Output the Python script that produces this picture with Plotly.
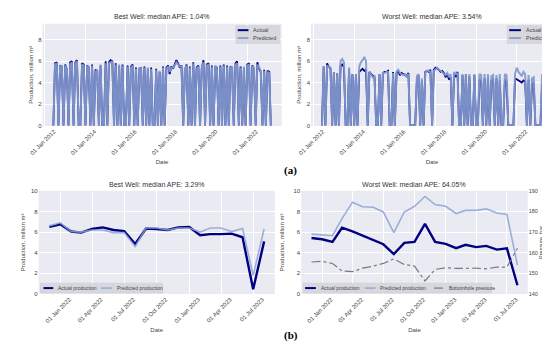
import pandas as pd
import plotly.graph_objects as go

W, H = 550, 344

# ---------------- data ----------------
long_start = "2012-06-01"

best_actual = [
    0, 5.8, 5.9, 0, 5.6, 5.5, 0,
    5.7, 5.2, 0, 5.9, 6.0, 0, 5.9, 6.1, 0, 0, 5.8, 5.7,
    0, 5.6, 5.4, 0, 5.7, 0, 5.2, 5.1, 0, 5.6, 0, 0,
    6.0, 0, 5.9, 6.1, 6.0, 0, 5.8, 0, 5.6, 0, 5.7, 0,
    0, 5.6, 0, 5.5, 5.7, 0, 5.4, 0, 5.3, 5.4, 0, 5.5,
    0, 5.3, 0, 5.4, 0, 0, 5.3, 0, 5.0, 0, 5.5, 0,
    5.4, 5.6, 4.8, 5.5, 5.3, 5.7, 6.1, 5.8, 5.4, 5.6, 0, 5.2,
    5.7, 0, 5.5, 0, 5.9, 0, 5.4, 5.6, 0, 5.3, 6.1, 0,
    5.7, 5.8, 0, 5.6, 0, 5.5, 5.4, 0, 5.6, 0, 5.7, 0,
    5.6, 0, 5.5, 5.4, 0, 5.8, 6.0, 0, 5.5, 0, 5.4, 0,
    5.7, 5.8, 0, 5.6, 5.3, 0, 5.9, 5.3, 5.0, 0, 5.2, 0,
    5.1, 5.0, 0,
]
best_pred = [
    0, 5.7, 5.8, 0, 5.5, 5.6, 0,
    5.6, 5.3, 0, 5.7, 5.9, 0, 5.8, 6.0, 0, 0, 5.7, 5.6,
    0, 5.5, 5.5, 0, 5.6, 0, 5.0, 5.2, 0, 5.7, 0, 0,
    5.8, 0, 5.8, 5.9, 6.0, 0, 5.7, 0, 5.7, 0, 5.6, 0,
    0, 5.5, 0, 5.4, 5.6, 0, 5.3, 0, 5.4, 5.3, 0, 5.4,
    0, 5.4, 0, 5.3, 0, 0, 5.2, 0, 5.1, 0, 5.4, 0,
    5.3, 5.5, 5.0, 5.4, 5.4, 5.6, 5.9, 5.7, 5.5, 5.5, 0, 5.3,
    5.6, 0, 5.4, 0, 5.8, 0, 5.3, 5.5, 0, 5.4, 5.9, 0,
    5.6, 5.7, 0, 5.5, 0, 5.6, 5.3, 0, 5.5, 0, 5.6, 0,
    5.5, 0, 5.4, 5.5, 0, 5.7, 5.8, 0, 5.4, 0, 5.5, 0,
    5.6, 5.7, 0, 5.5, 5.4, 0, 5.7, 5.4, 5.1, 0, 5.1, 0,
    5.0, 4.9, 0,
]

worst_actual = [
    0, 5.5, 0, 5.8, 5.5, 5.3, 0,
    5.0, 0, 4.9, 0, 5.6, 5.7, 5.4, 0, 0, 5.3, 0, 4.8,
    0, 4.8, 0, 5.0, 5.2, 5.3, 5.1, 5.2, 0, 5.0, 4.8, 4.6,
    4.5, 0, 0, 4.8, 0, 4.9, 5.0, 5.0, 5.1, 0, 0, 5.0,
    0, 4.9, 5.1, 4.7, 4.9, 4.8, 4.7, 4.6, 4.9, 0, 0, 0,
    0, 4.3, 4.7, 0, 4.2, 0, 5.0, 5.1, 5.0, 5.2, 0, 5.2,
    5.4, 5.3, 5.2, 5.0, 5.1, 4.9, 4.5, 4.8, 4.3, 4.5, 0, 4.8,
    4.6, 5.0, 0, 0, 4.7, 0, 4.8, 0, 4.6, 0, 0, 4.7,
    0, 0, 4.3, 4.1, 0, 4.4, 0, 4.5, 0, 4.2, 4.3, 0,
    4.4, 0, 4.2, 0, 0, 4.3, 4.1, 0, 0, 0, 0, 4.4,
    4.3, 4.2, 4.1, 4.0, 4.2, 4.1, 0, 4.3, 0, 3.8, 4.0, 0,
    0, 0, 0, 3.9,
]
worst_pred = [
    0, 5.5, 0, 5.6, 5.5, 5.4, 0,
    5.0, 0, 4.9, 0, 6.0, 6.2, 5.9, 0, 0, 5.4, 0, 4.8,
    0, 4.8, 0, 5.5, 5.9, 6.1, 6.4, 6.0, 0, 5.0, 4.7, 4.5,
    4.6, 0, 0, 4.8, 0, 4.9, 4.9, 5.0, 5.0, 0, 0, 4.9,
    0, 5.0, 5.2, 4.9, 4.8, 4.7, 4.8, 4.5, 4.8, 0, 0, 0,
    0, 4.6, 4.8, 0, 4.4, 0, 4.9, 5.1, 5.1, 5.0, 0, 5.1,
    5.3, 5.4, 5.2, 5.1, 5.0, 4.8, 4.7, 4.9, 4.5, 4.8, 0, 5.0,
    4.8, 4.9, 0, 0, 4.8, 0, 4.8, 0, 4.8, 0, 0, 4.8,
    0, 0, 4.8, 4.7, 0, 4.8, 0, 4.8, 0, 4.6, 4.7, 0,
    4.7, 0, 4.8, 0, 0, 4.8, 4.7, 0, 0, 0, 0, 4.8,
    5.4, 5.0, 4.8, 4.6, 5.0, 4.8, 0, 4.7, 0, 4.4, 4.5, 0,
    0, 0, 0, 4.8,
]

recent_start = "2021-12-01"
best_recent_actual = [6.5, 6.75, 6.05, 5.95, 6.3, 6.45, 6.2, 6.1, 4.85, 6.35, 6.3,
                      6.2, 6.45, 6.5, 5.7, 5.8, 5.8, 5.85, 5.5, 0.45, 5.1]
best_recent_pred = [6.6, 6.9, 6.05, 6.0, 6.2, 6.2, 5.95, 5.95, 4.6, 6.4, 6.4,
                    6.2, 6.4, 6.4, 6.0, 6.4, 6.4, 6.05, 6.35, 1.8, 6.3]
worst_recent_actual = [5.43, 5.3, 5.05, 6.42, 6.07, 5.65, 5.2, 4.82, 3.87, 4.95, 5.05,
                       6.8, 5.05, 4.86, 4.44, 4.76, 4.54, 4.66, 4.3, 4.42, 0.85]
worst_recent_pred = [5.8, 5.7, 5.65, 7.3, 8.9, 8.45, 8.4, 7.95, 5.95, 7.95, 8.5,
                     9.45, 8.67, 8.5, 7.8, 8.1, 8.1, 8.25, 7.85, 7.7, 2.8]
worst_recent_bhp = [155.5, 155.8, 154.8, 151.2, 150.8, 152.5, 153.5, 154.8, 157.0, 154.3, 153.5,
                    146.3, 151.9, 152.7, 152.4, 152.5, 152.5, 152.2, 153.0, 153.0, 162.2]

titles = ["Best Well: median APE: 1.04%", "Worst Well: median APE: 3.54%",
          "Best Well: median APE: 3.29%", "Worst Well: median APE: 64.05%"]

long_tickvals = ["2012-01-01", "2014-01-01", "2016-01-01", "2018-01-01", "2020-01-01", "2022-01-01"]
long_ticktext = ["01 Jan 2012", "01 Jan 2014", "01 Jan 2016", "01 Jan 2018", "01 Jan 2020", "01 Jan 2022"]
recent_tickvals = ["2022-01-01", "2022-04-01", "2022-07-01", "2022-10-01",
                   "2023-01-01", "2023-04-01", "2023-07-01"]
recent_ticktext = ["01 Jan 2022", "01 Apr 2022", "01 Jul 2022", "01 Oct 2022",
                   "01 Jan 2023", "01 Apr 2023", "01 Jul 2023"]
pressure_ticks = [140, 150, 160, 170, 180, 190]

# ---------------- helpers ----------------
def months(start, n):
    return pd.date_range(start, periods=n, freq="MS")

def padded(dates, frac=0.05):
    t0, t1 = dates[0], dates[-1]
    pad = (t1 - t0) * frac
    return [(t0 - pad).strftime("%Y-%m-%d %H:%M:%S"), (t1 + pad).strftime("%Y-%m-%d %H:%M:%S")]

def px(x):
    return x / W

def py(y):
    return 1 - y / H

best_dates = months(long_start, len(best_actual))
worst_dates = months(long_start, len(worst_actual))
recent_dates = months(recent_start, len(best_recent_actual))

NAVY = "#000080"
PRED_TOP = "rgba(130,154,206,0.93)"
PRED_BOT = "rgba(140,165,210,0.85)"
BHP = "#7a7a7a"
FONT = "Liberation Sans"
TXT = "#444444"

fig = go.Figure()

def add(x, y, color, width, xa, ya, dash="solid"):
    fig.add_trace(go.Scatter(x=x, y=y, mode="lines", line=dict(color=color, width=width, dash=dash),
                             xaxis=xa, yaxis=ya, showlegend=False, hoverinfo="skip"))

add(best_dates, best_actual, NAVY, 1.8, "x", "y")
add(best_dates, best_pred, PRED_TOP, 2, "x", "y")
add(worst_dates, worst_actual, NAVY, 1.8, "x2", "y2")
add(worst_dates, worst_pred, PRED_TOP, 2, "x2", "y2")
add(recent_dates, best_recent_actual, NAVY, 2.4, "x3", "y3")
add(recent_dates, best_recent_pred, PRED_BOT, 1.6, "x3", "y3")
add(recent_dates, worst_recent_actual, NAVY, 2.4, "x4", "y4")
add(recent_dates, worst_recent_pred, PRED_BOT, 1.6, "x4", "y4")
add(recent_dates, worst_recent_bhp, BHP, 1.2, "x4", "y5", dash="dashdot")

tickfont = dict(family=FONT, size=6, color=TXT)
titlefont = dict(family=FONT, size=6, color=TXT)

def xaxis(domain, rng, tv, tt, anchor):
    return dict(domain=domain, range=rng, tickvals=tv, ticktext=tt, tickangle=-45,
                tickfont=tickfont, showgrid=True, gridcolor="white", gridwidth=1,
                zeroline=False, showline=False, ticks="", anchor=anchor,
                ticklabelshift=9, title=dict(text="Date", font=titlefont, standoff=4))

def yaxis(domain, rng, tv, anchor, title="Production, million m³", standoff=4):
    return dict(domain=domain, range=rng, tickvals=tv, tickfont=tickfont, showgrid=True,
                gridcolor="white", gridwidth=1, zeroline=False, showline=False, ticks="",
                anchor=anchor, title=dict(text=title, font=titlefont, standoff=standoff))

top_y = [py(117), py(13)]
bot_y = [py(288), py(183)]
dom_tl = [px(22), px(267)]
dom_tr = [px(297), px(545)]
dom_bl = [px(18), px(260)]
dom_br = [px(287), px(519)]

fig.update_layout(
    width=W, height=H, margin=dict(l=0, r=0, t=0, b=0),
    paper_bgcolor="white", plot_bgcolor="#EAEAF2",
    font=dict(family=FONT, color=TXT),
    showlegend=False,
    xaxis=xaxis(dom_tl, padded(best_dates), long_tickvals, long_ticktext, "y"),
    xaxis2=xaxis(dom_tr, padded(worst_dates), long_tickvals, long_ticktext, "y2"),
    xaxis3=xaxis(dom_bl, padded(recent_dates), recent_tickvals, recent_ticktext, "y3"),
    xaxis4=xaxis(dom_br, padded(recent_dates), recent_tickvals, recent_ticktext, "y4"),
    yaxis=yaxis(top_y, [-0.05, 9.5], [0, 2, 4, 6, 8], "x"),
    yaxis2=yaxis(top_y, [-0.05, 9.5], [0, 2, 4, 6, 8], "x2"),
    yaxis3=yaxis(bot_y, [0, 10], [0, 2, 4, 6, 8, 10], "x3"),
    yaxis4=yaxis(bot_y, [0, 10], [0, 2, 4, 6, 8, 10], "x4", standoff=8),
    yaxis5=dict(domain=bot_y, range=[140, 190], tickvals=pressure_ticks,
                overlaying="y4", side="right", anchor="x4", showgrid=False, zeroline=False,
                tickfont=dict(family=FONT, size=5.5, color=TXT), ticks="", ticklen=0,
                showline=False,
                title=dict(text="Pressure, bar", font=dict(family=FONT, size=5.5, color=TXT),
                           standoff=1)),
)

annotations = []
# subplot titles
for dom, ytop, text in [(dom_tl, 6, titles[0]), (dom_tr, 6, titles[1]),
                        (dom_bl, 177, titles[2]), (dom_br, 177, titles[3])]:
    annotations.append(dict(x=(dom[0] + dom[1]) / 2, y=py(ytop), xref="paper", yref="paper",
                            text=text, showarrow=False, xanchor="center", yanchor="middle",
                            font=dict(family=FONT, size=7, color="#333333")))
# panel labels
for x, y, t in [(276, 162, "(a)"), (277, 330, "(b)")]:
    annotations.append(dict(x=px(x), y=py(y), xref="paper", yref="paper", text=f"<b>{t}</b>",
                            showarrow=False, xanchor="center", yanchor="middle",
                            font=dict(family="Liberation Serif", size=11, color="black")))

shapes = []

def legend(box, items, fsize):
    x0, y0, x1, y1 = box
    shapes.append(dict(type="rect", xref="paper", yref="paper", x0=px(x0), x1=px(x1),
                       y0=py(y1), y1=py(y0), fillcolor="rgba(214,214,220,0.95)",
                       line=dict(color="rgba(200,200,205,1)", width=0.5), layer="above"))
    for lx0, lx1, ly, color, width, dash, tx, label in items:
        shapes.append(dict(type="line", xref="paper", yref="paper", x0=px(lx0), x1=px(lx1),
                           y0=py(ly), y1=py(ly), line=dict(color=color, width=width, dash=dash),
                           layer="above"))
        annotations.append(dict(x=px(tx), y=py(ly), xref="paper", yref="paper", text=label,
                                showarrow=False, xanchor="left", yanchor="middle",
                                font=dict(family=FONT, size=fsize, color=TXT)))

legend((220, 15, 265, 33), [
    (222, 233, 19.5, NAVY, 2, "solid", 236, "Actual"),
    (222, 233, 27.5, PRED_TOP, 1.8, "solid", 236, "Predicted"),
], 5.5)
legend((498, 15, 543, 33), [
    (500, 512, 19.5, NAVY, 2, "solid", 515, "Actual"),
    (500, 512, 27.5, PRED_TOP, 1.8, "solid", 515, "Predicted"),
], 5.5)
legend((20, 277, 145, 287), [
    (23, 33, 282, NAVY, 2, "solid", 36, "Actual production"),
    (82, 93, 282, PRED_BOT, 1.6, "solid", 96, "Predicted production"),
], 5)
legend((289, 277, 482, 287), [
    (291, 302, 282, NAVY, 2, "solid", 305, "Actual production"),
    (352, 363, 282, PRED_BOT, 1.6, "solid", 366, "Predicted production"),
    (423, 433, 282, BHP, 1.2, "dashdot", 436, "Bottomhole pressure"),
], 5)

fig.update_layout(annotations=annotations, shapes=shapes)

fig.write_html("out.html")
